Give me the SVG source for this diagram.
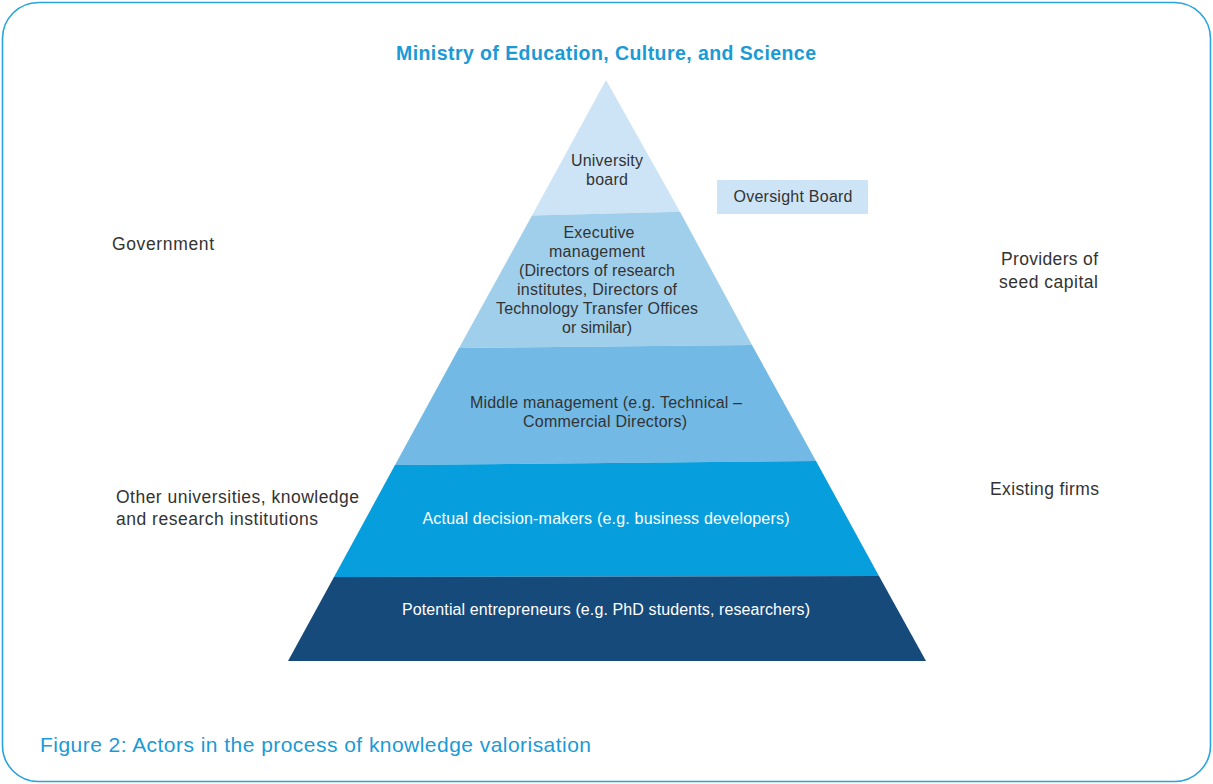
<svg xmlns="http://www.w3.org/2000/svg" width="1213" height="784" viewBox="0 0 1213 784">
  <style>
    .t { font-family: "Liberation Sans", Arial, sans-serif; font-size: 16px; fill: #333333; }
    .c { text-anchor: middle; }
    .w { fill: #ffffff; }
    .r { text-anchor: end; }
    .side { font-family: "Liberation Sans", Arial, sans-serif; font-size: 17.5px; fill: #333333; }
    .blue { font-family: "Liberation Sans", Arial, sans-serif; fill: #1A9AD6; }
  </style>

  <!-- frame -->
  <rect x="2.5" y="2.5" width="1208" height="779" rx="36" ry="36" fill="#ffffff" stroke="#29A3DC" stroke-width="1.6"/>

  <!-- title -->
  <text class="blue" x="606" y="60" font-size="19.5" font-weight="bold" text-anchor="middle" textLength="420" lengthAdjust="spacing">Ministry of Education, Culture, and Science</text>

  <!-- pyramid layers -->
  <g id="layer-board">
    <polygon points="606,80 680,211.7 532,215.6" fill="#CDE4F6"/>
    <text class="t c" x="607" y="166" textLength="72" lengthAdjust="spacing">University</text>
    <text class="t c" x="607" y="185" textLength="42" lengthAdjust="spacing">board</text>
  </g>
  <g id="layer-executive">
    <polygon points="532,215.6 680,211.7 752,345 459,348" fill="#A0CFEC"/>
    <text class="t c" x="599" y="238" textLength="71" lengthAdjust="spacing">Executive</text>
    <text class="t c" x="597" y="257" textLength="96" lengthAdjust="spacing">management</text>
    <text class="t c" x="597" y="276" textLength="156" lengthAdjust="spacing">(Directors of research</text>
    <text class="t c" x="597" y="295" textLength="160" lengthAdjust="spacing">institutes, Directors of</text>
    <text class="t c" x="597" y="314" textLength="202" lengthAdjust="spacing">Technology Transfer Offices</text>
    <text class="t c" x="597" y="333" textLength="70" lengthAdjust="spacing">or similar)</text>
  </g>
  <g id="layer-middle">
    <polygon points="459,348 752,345 816,461 395,465" fill="#72B9E5"/>
    <text class="t c" x="606" y="408" textLength="272" lengthAdjust="spacing">Middle management (e.g. Technical –</text>
    <text class="t c" x="605" y="427" textLength="164" lengthAdjust="spacing">Commercial Directors)</text>
  </g>
  <g id="layer-decision">
    <polygon points="395,465 816,461 879,576 334,577" fill="#069EDC"/>
    <text class="t c w" x="606" y="524" textLength="367" lengthAdjust="spacing">Actual decision-makers (e.g. business developers)</text>
  </g>
  <g id="layer-entrepreneurs">
    <polygon points="334,577 879,576 926,661 288,661" fill="#164A7B"/>
    <text class="t c w" x="606" y="615" textLength="408" lengthAdjust="spacing">Potential entrepreneurs (e.g. PhD students, researchers)</text>
  </g>

  <!-- side box -->
  <g id="oversight-board">
    <rect x="717" y="180" width="151" height="34" fill="#CDE4F6"/>
    <text class="t c" x="793" y="202" textLength="119" lengthAdjust="spacing">Oversight Board</text>
  </g>

  <!-- surrounding actors -->
  <g id="government"><text class="side" x="112" y="250" textLength="102" lengthAdjust="spacing">Government</text></g>
  <g id="other-institutions">
    <text class="side" x="116" y="503" textLength="243" lengthAdjust="spacing">Other universities, knowledge</text>
    <text class="side" x="116" y="525" textLength="202" lengthAdjust="spacing">and research institutions</text>
  </g>
  <g id="seed-capital">
    <text class="side r" x="1098" y="265" textLength="97" lengthAdjust="spacing">Providers of</text>
    <text class="side r" x="1098" y="288" textLength="99" lengthAdjust="spacing">seed capital</text>
  </g>
  <g id="existing-firms"><text class="side r" x="1099" y="495" textLength="109" lengthAdjust="spacing">Existing firms</text></g>

  <!-- connectors: none drawn -->
  <g id="connectors"/>

  <!-- caption -->
  <text class="blue" x="40" y="752" font-size="21" textLength="551" lengthAdjust="spacing">Figure 2: Actors in the process of knowledge valorisation</text>
</svg>
